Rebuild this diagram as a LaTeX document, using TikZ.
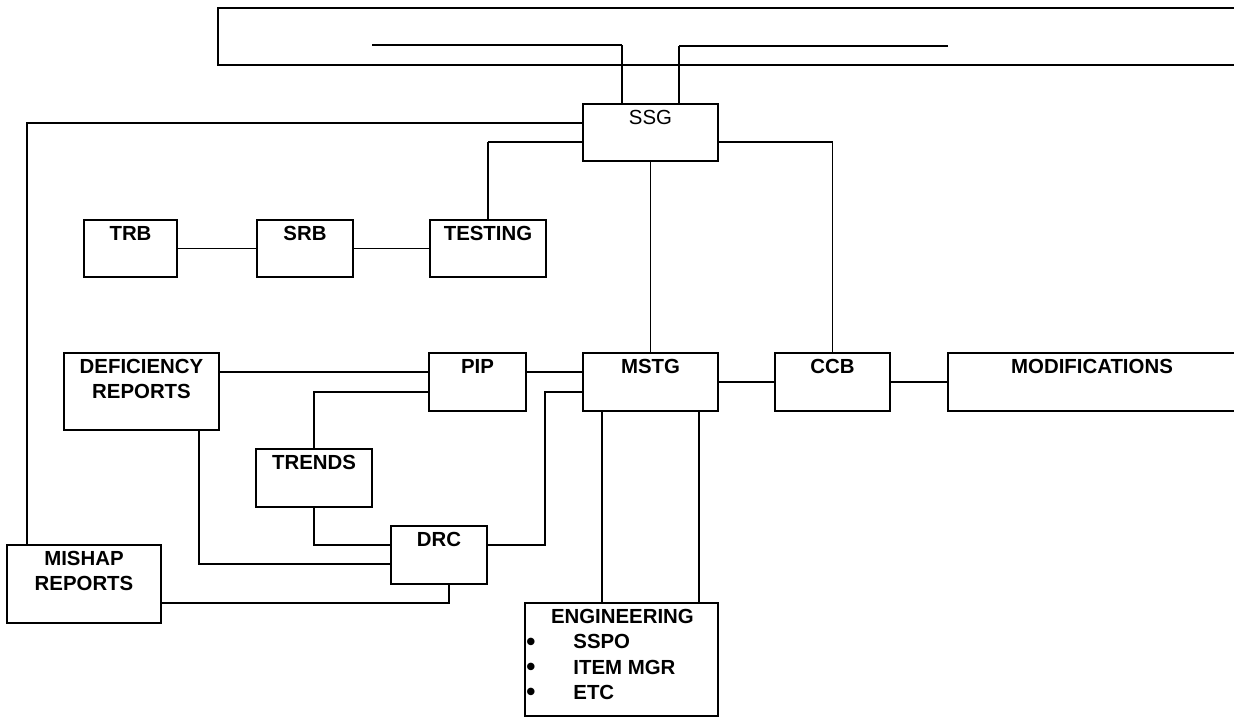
\documentclass[tikz,border=0pt]{standalone}
\usepackage{fontspec}
\setmainfont{Liberation Sans}
\usetikzlibrary{calc}
\newcommand\mkbox[6]{%
  \node[box, anchor=north west, minimum width={(#4-#2)*0.5pt}, minimum height={(#5-#3)*0.5pt}] (#1) at (#2,#3) {};
  \node[lbl, anchor=north] (#1t) at ($(#1.north)+(0,6)$) {#6};}
\newcommand\bul{\makebox[23.5pt][l]{\raisebox{-0.6pt}{\fontsize{13}{13}\selectfont\textbullet}}}
\begin{document}
\begin{tikzpicture}[x=0.5pt,y=-0.5pt,
  box/.style={draw, line width=1pt, rectangle, inner sep=0pt, outer sep=0pt},
  lbl/.style={inner sep=0pt, align=center, font=\fontsize{10.2}{12.6}\selectfont\bfseries},
  thinl/.style={line width=0.6pt},
  medl/.style={line width=0.9pt},
  thickl/.style={line width=1.35pt}]
\useasboundingbox (0,0) rectangle (1234,719);
\clip (0,0) rectangle (1234,719);

% top frame
\node[box, anchor=north west, minimum width={(1240-218)*0.5pt}, minimum height={(65-8)*0.5pt}] (top) at (218,8) {};

% boxes
\mkbox{ssg}{583}{104}{718}{161}{\mdseries SSG}
\mkbox{trb}{84}{220}{177}{277}{TRB}
\mkbox{srb}{257}{220}{353}{277}{SRB}
\mkbox{testing}{430}{220}{546}{277}{TESTING}
\mkbox{def}{64}{353}{219}{430}{DEFICIENCY\\REPORTS}
\mkbox{pip}{429}{353}{526}{411}{PIP}
\mkbox{mstg}{583}{353}{718}{411}{MSTG}
\mkbox{ccb}{775}{353}{890}{411}{CCB}
\mkbox{mod}{948}{353}{1236}{411}{MODIFICATIONS}
\mkbox{trends}{256}{449}{372}{507}{TRENDS}
\mkbox{drc}{391}{526}{487}{584}{DRC}
\mkbox{mishap}{7}{545}{161}{623}{MISHAP\\REPORTS}
\node[box, anchor=north west, minimum width={(718-525)*0.5pt}, minimum height={(716-603)*0.5pt}] (eng) at (525,603) {};
\node[lbl, anchor=north west, align=left] (engt) at ($(eng.north west)+(1,6)$)
  {\makebox[96pt]{ENGINEERING}\\
   \bul SSPO\\
   \bul ITEM MGR\\
   \bul ETC};

% lines inside the top frame to SSG
\coordinate (tl) at (372,45);
\coordinate (tr) at (948,46);
\coordinate (ssgTa) at ($(ssg.north west)+(39,0)$);
\coordinate (ssgTb) at ($(ssg.north west)+(96,0)$);
\draw[thickl] (tl) -- (tl -| ssgTa);
\draw[thinl] (tl -| ssgTa) -- (ssgTa);
\draw[thinl] (tr) -- (tr -| ssgTb);
\draw[thickl] (tr -| ssgTb) -- (ssgTb);

% SSG to MISHAP
\draw[medl] ($(ssg.north west)+(0,19)$) -| ($(mishap.north west)+(20,0)$);
% SSG to TESTING
\coordinate (ssgL2) at ($(ssg.north west)+(0,38)$);
\draw[thinl] (ssgL2) -- (ssgL2 -| testing.north);
\draw[thickl] (ssgL2 -| testing.north) -- (testing.north);
% SSG to CCB
\coordinate (ssgR) at ($(ssg.north east)+(0,38)$);
\draw[thickl] (ssgR) -- (ssgR -| ccb.north);
\draw[thinl] (ssgR -| ccb.north) -- (ccb.north);
% SSG to MSTG
\draw[thinl] (ssg.south) -- (mstg.north);

% TRB - SRB - TESTING
\draw[thinl] (trb.east) -- (srb.west);
\draw[thinl] (srb.east) -- (testing.west);

% DEF - PIP
\coordinate (defR) at ($(def.north east)+(0,19)$);
\draw[thinl] (defR) -- (defR -| pip.west);
% PIP - TRENDS
\draw[thickl] ($(pip.north west)+(0,39)$) -| (trends.north);
% TRENDS - DRC
\draw[thinl] (trends.south) |- ($(drc.north west)+(0,19)$);
% DEF - DRC
\draw[thinl] ($(def.south east)+(-20,0)$) |- ($(drc.north west)+(0,38)$);
% DRC - MSTG
\draw[thickl] ($(drc.north east)+(0,19)$) -| ($(mstg.north west)+(-38,39)$) -- ($(mstg.north west)+(0,39)$);
% DRC - MISHAP
\draw[thickl] ($(drc.south west)+(58,0)$) |- ($(mishap.north east)+(0,58)$);
% PIP - MSTG
\coordinate (pipR) at ($(pip.north east)+(0,19)$);
\draw[thinl] (pipR) -- (pipR -| mstg.west);
% MSTG - CCB - MOD
\draw[thinl] (mstg.east) -- (ccb.west);
\draw[thinl] (ccb.east) -- (mod.west);
% MSTG - ENGINEERING
\coordinate (mstgB1) at ($(mstg.south west)+(19,0)$);
\coordinate (mstgB2) at ($(mstg.south east)+(-19,0)$);
\draw[thinl] (mstgB1) -- (mstgB1 |- eng.north);
\draw[thinl] (mstgB2) -- (mstgB2 |- eng.north);
\end{tikzpicture}
\end{document}
